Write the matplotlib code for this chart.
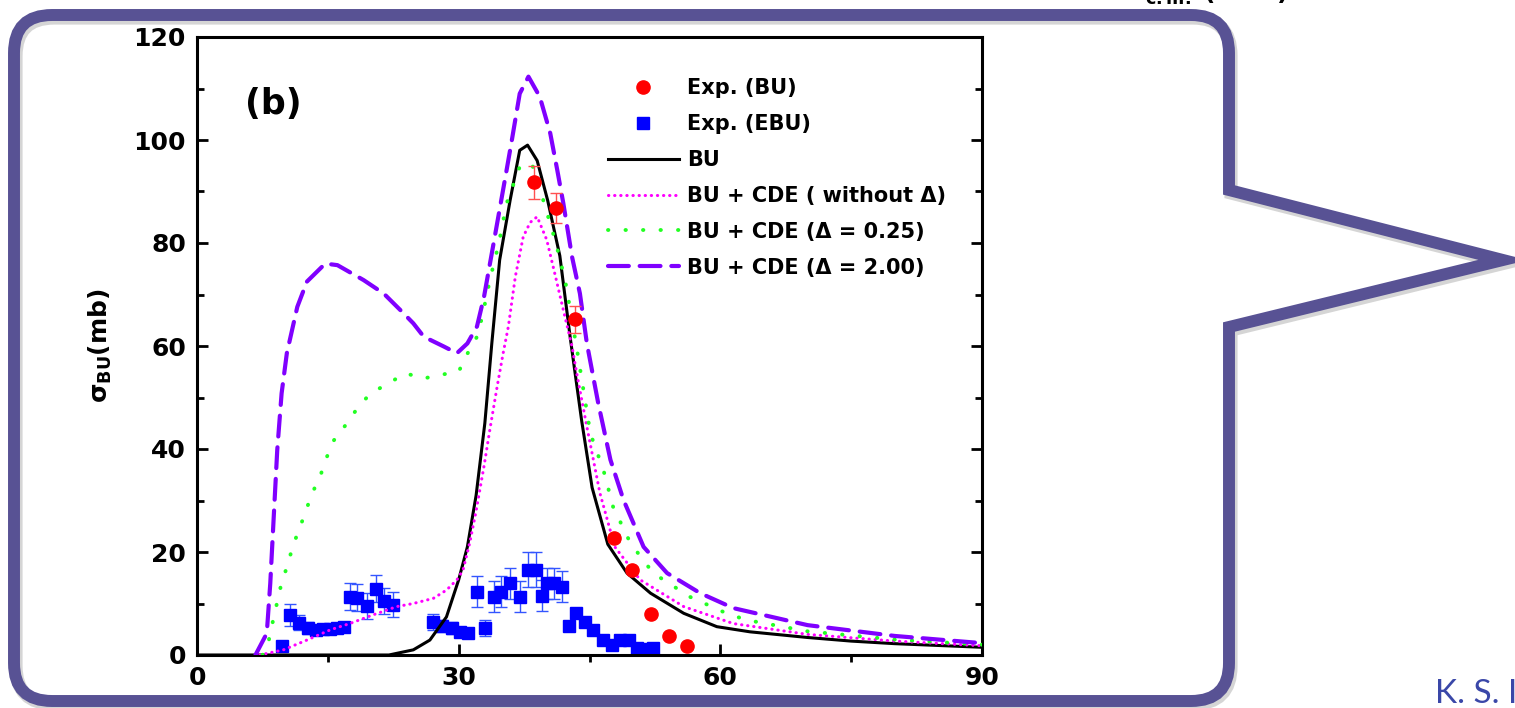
import matplotlib
matplotlib.use("Agg")
import matplotlib.pyplot as plt
from matplotlib.path import Path
from matplotlib.patches import PathPatch
from matplotlib.lines import Line2D

plt.rcParams['font.family'] = ['DejaVu Sans']
plt.rcParams['font.weight'] = 'bold'
plt.rcParams['mathtext.fontset'] = 'dejavusans'
plt.rcParams['mathtext.default'] = 'bf'

# --- experimental points ---
bu_x = [38.6, 41.2, 43.3, 47.8, 49.9, 52.1, 54.1, 56.2]
bu_y = [91.8, 86.8, 65.2, 22.7, 16.5, 8.0, 3.7, 1.7]
bu_err = [3.2, 3.0, 2.6, 0.8, 0.5, 0.3, 0.2, 0.1]

ebu_x = [9.7, 10.7, 11.7, 12.7, 13.6, 14.5, 15.3, 16.0, 16.8, 17.5, 18.3, 19.5,
         20.5, 21.4, 22.5, 27.1, 28.1, 29.2, 30.2, 31.1, 32.1, 33.0, 34.0, 34.9,
         35.9, 37.0, 38.0, 38.9, 39.6, 40.1, 40.9, 41.8, 42.6, 43.5, 44.5, 45.4,
         46.6, 47.6, 48.5, 49.5, 50.4, 51.4, 52.3]
ebu_y = [1.8, 7.8, 6.3, 5.2, 4.9, 5.0, 5.1, 5.2, 5.4, 11.3, 11.1, 9.5,
         12.9, 10.5, 9.8, 6.4, 5.6, 5.2, 4.5, 4.3, 12.3, 5.2, 11.3, 12.3,
         13.9, 11.3, 16.6, 16.6, 11.5, 13.9, 13.9, 13.3, 5.6, 8.1, 6.5, 4.9,
         2.9, 1.9, 2.9, 2.9, 1.3, 1.1, 1.3]
ebu_err = [0.5, 2.2, 1.5, 1.2, 1.0, 1.0, 1.0, 1.0, 1.0, 2.6, 2.6, 2.5,
           2.6, 2.5, 2.5, 1.5, 1.2, 1.2, 1.0, 1.0, 3.0, 1.5, 3.0, 3.0,
           3.0, 3.0, 3.4, 3.4, 3.0, 3.0, 3.0, 3.0, 1.0, 1.0, 0.8, 0.5,
           0.5, 0.5, 0.5, 0.5, 0.3, 0.3, 0.3]

# --- calculations ---
bu_cx = [0, 22, 24.8, 26.7, 28.6, 30, 31, 32, 33, 33.8, 34.7, 35.9, 37, 37.9,
         39, 40.2, 41.6, 42.8, 44.1, 45.3, 47.1, 49.3, 52, 55.8, 59.6, 63.4, 70,
         75, 80, 90]
bu_cy = [0, 0, 1, 2.9, 7.4, 14.6, 21, 31, 45, 60.5, 76.7, 88.3, 98, 99,
         96, 88.3, 77.5, 61.5, 45.5, 32.5, 21.5, 15.9, 12, 8.1, 5.5, 4.5, 3.4,
         2.7, 2.2, 1.5]

cde0_x = [7.2, 9.9, 12.6, 15.3, 17.5, 20.2, 22.9, 24.8, 27.1, 28.6, 29.8, 30.5,
          31.3, 32, 32.9, 33.6, 34.4, 35.1, 35.7, 36.5, 37.4, 38.2, 39, 40.1,
          41.1, 42, 43, 43.5, 44.7, 46.2, 47.9, 50.8, 55.8, 61.5, 70, 80, 90]
cde0_y = [0, 1, 2.9, 4.9, 6.1, 7.8, 9.4, 10, 11, 12.6, 14.6, 16.5,
          22, 28, 36.6, 44, 52, 58.6, 63.8, 73.5, 81.2, 84, 85.1, 80.6,
          73.5, 67, 59.9, 55, 44.3, 31.4, 21, 14.6, 9.4, 6.1, 4, 2.7, 1.8]

cde025_x = [7.5, 8, 8.6, 9.6, 10.3, 11.1, 11.7, 13.2, 14.1, 14.9, 15.7, 17.2,
            18.5, 19.9, 22, 23.9, 26, 27.9, 30, 30.8, 32.1, 32.7, 33.6, 34.6,
            35.5, 37, 38.4, 39.7, 41.1, 42.2, 42.6, 43.7, 45.1, 46.6, 47.7,
            49.7, 52.3, 56.5, 60.7, 63, 70, 80, 90]
cde025_y = [0, 1, 5.8, 13.3, 17.1, 21.7, 24.3, 31.4, 34.6, 38.5, 41.7, 45,
            48.2, 50.8, 52.8, 54.7, 53.7, 54.4, 55, 57.9, 61.8, 65.7, 73, 79.9,
            87.7, 94.8, 95.4, 88.3, 80.3, 72.8, 68.9, 57.9, 43, 35.9, 28.8,
            21.7, 15.9, 11.3, 8.1, 6.8, 4.6, 3.0, 2.0]

cde2_x = [6.7, 8, 8.4, 8.8, 9.2, 9.7, 10.3, 11.5, 12.6, 14.7, 16.1, 19.1,
          21.4, 23.3, 24.8, 26, 28.3, 29.8, 31, 32.1, 32.9, 34, 35.5, 36.1,
          37, 38, 39.3, 40.5, 41.3, 42, 43, 43.9, 44.7, 46, 47.4, 48.9, 51.2,
          53.9, 57.7, 61.5, 70, 80, 90]
cde2_y = [0, 4.2, 13.9, 26.9, 39.8, 50.8, 58.6, 67.6, 72.5, 76, 75.7, 72.8,
          70.2, 67, 64.4, 61.8, 59.9, 58.6, 60.5, 63.8, 69.5, 79.9, 94.2, 100,
          109, 112.3, 108.4, 101.3, 94.2, 87.7, 77.3, 70.2, 60.5, 48.9, 37.9,
          30.1, 21, 15.9, 12, 9.1, 5.8, 3.7, 2.3]

W, H = 1515, 708
fig = plt.figure(figsize=(W / 100, H / 100), dpi=100)
fig.patch.set_facecolor('white')

# callout frame drawn in pixel coordinates
bg = fig.add_axes([0, 0, 1, 1])
bg.set_xlim(0, W)
bg.set_ylim(H, 0)
bg.axis('off')
L, T, R, B, r = 14, 15, 1229, 701, 38
verts = [(L + r, T), (R - r, T), (R, T), (R, T + r), (R, 190), (1503, 260),
         (R, 327), (R, B - r), (R, B), (R - r, B), (L + r, B), (L, B), (L, B - r),
         (L, T + r), (L, T), (L + r, T), (L + r, T)]
codes = [Path.MOVETO, Path.LINETO, Path.CURVE3, Path.CURVE3, Path.LINETO, Path.LINETO,
         Path.LINETO, Path.LINETO, Path.CURVE3, Path.CURVE3, Path.LINETO, Path.CURVE3,
         Path.CURVE3, Path.LINETO, Path.CURVE3, Path.CURVE3, Path.CLOSEPOLY]
shadow = [(x + 2, y + 3) for x, y in verts]
bg.add_patch(PathPatch(Path(shadow, codes), fill=False, edgecolor='#888888', alpha=0.35,
                       lw=9.5, joinstyle='miter'))
bg.add_patch(PathPatch(Path(verts, codes), fill=False, edgecolor='#585294', lw=8.6,
                       joinstyle='miter'))

# label of the panel above, only its lower edge shows
fig.text(1128 / W, 1 - 1 / H, r'E$_\mathbf{c.m.}$ (MeV)', fontsize=18,
         fontweight='bold', va='baseline', ha='left')
fig.text(1435 / W, 1 - 703 / H, 'K. S. I', fontsize=24, family='Lato',
         fontweight='normal', color='#3a47a8', va='baseline', ha='left')

ax = fig.add_axes([197 / W, 53 / H, 785 / W, 618 / H])

ax.errorbar(ebu_x, ebu_y, yerr=ebu_err, fmt='s', color='#0000ff', ms=8.5,
            ecolor='#3355ff', elinewidth=1, capsize=4, capthick=1, zorder=2)
ax.plot(bu_cx, bu_cy, color='black', lw=2.2, zorder=3)
ax.plot(cde0_x, cde0_y, color='#ff00ff', lw=2.2, dashes=(0.1, 1.9),
        dash_capstyle='round', zorder=3)
ax.plot(cde025_x, cde025_y, color='#22ff22', lw=2.8, dashes=(0.1, 4.4),
        dash_capstyle='round', zorder=3)
ax.plot(cde2_x, cde2_y, color='#8000ff', lw=3, dashes=(5.0, 2.6),
        dash_capstyle='round', zorder=3)
ax.errorbar(bu_x, bu_y, yerr=bu_err, fmt='o', color='#ff0000', ms=9.5,
            ecolor='#ff5050', elinewidth=1, capsize=4, capthick=1, zorder=4)

ax.set_xlim(0, 90)
ax.set_ylim(0, 120)
ax.set_xticks([0, 30, 60, 90])
ax.set_xticks([15, 45, 75], minor=True)
ax.set_yticks([0, 20, 40, 60, 80, 100, 120])
ax.set_yticks([10, 30, 50, 70, 90, 110], minor=True)
for s in ax.spines.values():
    s.set_linewidth(2.2)
ax.tick_params(axis='x', which='major', direction='in', length=8, width=2,
               labelsize=18, pad=8)
ax.tick_params(axis='x', which='minor', direction='out', length=5, width=2)
ax.tick_params(axis='y', which='major', direction='in', length=8, width=2,
               right=True, labelsize=18, pad=8)
ax.tick_params(axis='y', which='minor', direction='in', length=5, width=2, right=True)
for lab in ax.get_xticklabels() + ax.get_yticklabels():
    lab.set_fontweight('bold')

ax.set_ylabel(r'σ$_\mathbf{BU}$(mb)', fontsize=18, fontweight='bold', labelpad=14)
ax.text(5.5, 107, '(b)', fontsize=25, fontweight='bold', va='center', ha='left')

handles = [
    Line2D([], [], ls='none', marker='o', color='#ff0000', ms=9.5),
    Line2D([], [], ls='none', marker='s', color='#0000ff', ms=8),
    Line2D([], [], color='black', lw=2.2),
    Line2D([], [], color='#ff00ff', lw=2.2, dashes=(0.1, 1.9), dash_capstyle='round'),
    Line2D([], [], color='#22ff22', lw=2.8, dashes=(0.1, 4.4), dash_capstyle='round'),
    Line2D([], [], color='#8000ff', lw=3, dashes=(5.0, 2.6), dash_capstyle='round'),
]
labels = ['Exp. (BU)', 'Exp. (EBU)', 'BU', 'BU + CDE ( without Δ)',
          'BU + CDE (Δ = 0.25)', 'BU + CDE (Δ = 2.00)']
ax.legend(handles, labels, loc='upper left', bbox_to_anchor=(0.5236, 0.933),
          frameon=False, borderpad=0, borderaxespad=0, handlelength=3.4,
          handletextpad=0.4, labelspacing=0.76, prop={'size': 15, 'weight': 'bold'})

fig.savefig('out.png', dpi=100)
